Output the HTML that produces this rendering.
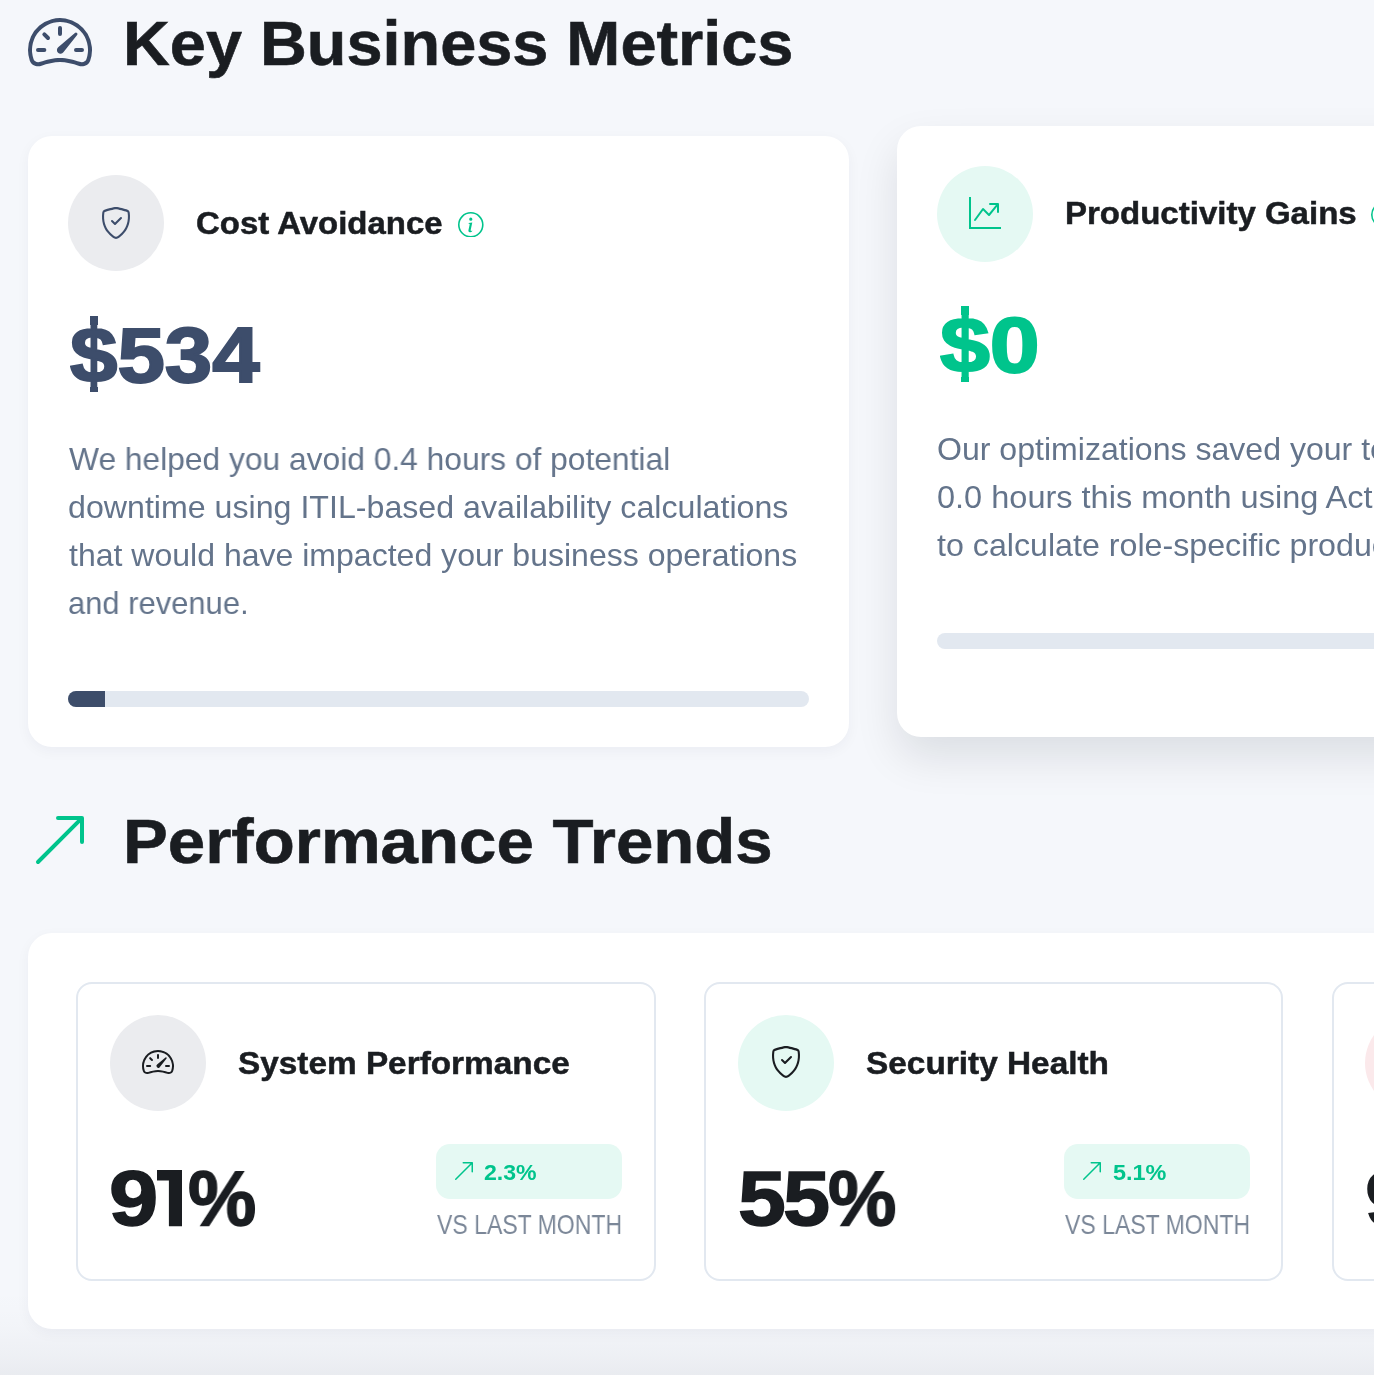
<!DOCTYPE html>
<html lang="en">
<head>
<meta charset="utf-8">
<title>Key Business Metrics</title>
<style>
*{box-sizing:border-box;margin:0;padding:0}
html,body{width:1374px;height:1375px;overflow:hidden}
body{background:#f5f7fb;font-family:"Liberation Sans",sans-serif;position:relative;color:#1a1d21}
.abs{position:absolute}
.t{position:absolute;white-space:nowrap;line-height:1;transform-origin:0 50%;will-change:transform}
svg{display:block;position:absolute}
.h1{font-weight:700;font-size:63px;color:#1a1d21;-webkit-text-stroke:.6px #1a1d21}
.card{position:absolute;background:#fff;border-radius:24px}
.c1{left:28px;top:136px;width:821px;height:611px;box-shadow:0 4px 14px rgba(20,30,60,.045)}
.c2{left:897px;top:126px;width:600px;height:611px;box-shadow:0 20px 44px rgba(10,15,30,.105)}
.circ{position:absolute;width:96px;height:96px;border-radius:50%}
.ct{font-weight:700;font-size:31.5px;color:#1a1d21;-webkit-text-stroke:.5px #1a1d21}
.val{font-weight:700;font-size:77px;-webkit-text-stroke:2px currentColor}
.p{font-size:32px;color:#64748b}
.track{position:absolute;height:16px;border-radius:8px;background:#e2e8f0;overflow:hidden}
.fill{position:absolute;left:0;top:0;height:16px;background:#3d4d6a}
.trends{left:28px;top:933px;width:1500px;height:396px;box-shadow:0 4px 14px rgba(20,30,60,.045)}
.sub{position:absolute;top:48.5px;width:579px;height:299px;border:2px solid #e2e8f0;border-radius:16px;background:#fff}
.big{font-weight:700;font-size:78px;color:#1a1d21;-webkit-text-stroke:1.5px #1a1d21}
.badge{position:absolute;left:357.5px;top:160px;width:186px;height:55px;border-radius:14px;background:#e5f9f3}
.bt{font-weight:700;font-size:22px;color:#00c48c}
.vs{font-size:27.4px;color:#7b8798}
.fade{position:absolute;left:0;top:1285px;width:1374px;height:90px;background:linear-gradient(to bottom,rgba(30,35,50,0) 0%,rgba(30,35,50,.004) 25%,rgba(30,35,50,.012) 45%,rgba(30,35,50,.022) 62%,rgba(30,35,50,.036) 80%,rgba(30,35,50,.056) 100%)}
</style>
</head>
<body>
<div class="fade"></div>

<!-- Section 1 title -->
<svg style="left:28px;top:9.5px" width="64" height="64" viewBox="0 0 16 16" fill="#3d4d6b"><path d="M8 4a.5.5 0 0 1 .5.5V6a.5.5 0 0 1-1 0V4.5A.5.5 0 0 1 8 4M3.732 5.732a.5.5 0 0 1 .707 0l.915.914a.5.5 0 1 1-.708.708l-.914-.915a.5.5 0 0 1 0-.707M2 10a.5.5 0 0 1 .5-.5h1.586a.5.5 0 0 1 0 1H2.5A.5.5 0 0 1 2 10m9.5 0a.5.5 0 0 1 .5-.5h1.5a.5.5 0 0 1 0 1H12a.5.5 0 0 1-.5-.5m.754-4.246a.39.39 0 0 0-.527-.02L7.547 9.31a.91.91 0 1 0 1.302 1.258l3.434-4.297a.39.39 0 0 0-.029-.518z"/><path fill-rule="evenodd" d="M0 10a8 8 0 1 1 15.547 2.661c-.442 1.253-1.845 1.602-2.932 1.25C11.309 13.488 9.475 13 8 13c-1.474 0-3.31.488-4.615.911-1.087.352-2.49.003-2.932-1.25A8 8 0 0 1 0 10m8-7a7 7 0 0 0-6.603 9.329c.203.575.923.876 1.68.63C4.397 12.533 6.358 12 8 12s3.604.532 4.923.96c.757.245 1.477-.056 1.680-.631A7 7 0 0 0 8 3"/></svg>
<div class="t h1" id="t1" style="left:122.9px;top:11.6px;transform:scaleX(1.0294)">Key Business Metrics</div>

<!-- Card 1 -->
<div class="card c1">
  <div class="circ" style="left:40px;top:39px;background:#ebecef"></div>
  <svg style="left:72px;top:71px" width="32" height="32" viewBox="0 0 16 16" fill="#3d4d6b"><path d="M5.338 1.59a61 61 0 0 0-2.837.856.48.48 0 0 0-.328.39c-.554 4.157.726 7.19 2.253 9.188a10.7 10.7 0 0 0 2.287 2.233c.346.244.652.42.893.533q.18.085.293.118a1 1 0 0 0 .101.025 1 1 0 0 0 .1-.025q.114-.034.294-.118c.24-.113.547-.29.893-.533a10.7 10.7 0 0 0 2.287-2.233c1.527-1.997 2.807-5.031 2.253-9.188a.48.48 0 0 0-.328-.39c-.651-.213-1.75-.56-2.837-.855C9.552 1.29 8.531 1.067 8 1.067c-.53 0-1.552.223-2.662.524zM5.072.56C6.157.265 7.31 0 8 0s1.843.265 2.928.56c1.11.3 2.229.655 2.887.87a1.54 1.54 0 0 1 1.044 1.262c.596 4.477-.787 7.795-2.465 9.99a11.8 11.8 0 0 1-2.517 2.453 7 7 0 0 1-1.048.625c-.28.132-.581.24-.829.24s-.548-.108-.829-.24a7 7 0 0 1-1.048-.625 11.8 11.8 0 0 1-2.517-2.453C1.928 10.487.545 7.169 1.141 2.692A1.54 1.54 0 0 1 2.185 1.43 63 63 0 0 1 5.072.56"/><path d="M10.854 5.146a.5.5 0 0 1 0 .708l-3 3a.5.5 0 0 1-.708 0l-1.500-1.500a.5.5 0 1 1 .708-.708L7.500 7.793l2.646-2.647a.5.5 0 0 1 .708 0"/></svg>
  <div class="t ct" id="t2" style="left:167.75px;top:72.4px;transform:scaleX(1.0462)">Cost Avoidance</div>
  <svg style="left:430px;top:75.7px" width="25.6" height="25.6" viewBox="0 0 16 16" fill="#00c48c"><path d="M8 15A7 7 0 1 1 8 1a7 7 0 0 1 0 14m0 1A8 8 0 1 0 8 0a8 8 0 0 0 0 16"/><path d="m8.930 6.588-2.290.287-.082.380.450.083c.294.070.352.176.288.469l-.738 3.468c-.194.897.105 1.319.808 1.319.545 0 1.178-.252 1.465-.598l.088-.416c-.200.176-.492.246-.686.246-.275 0-.375-.193-.304-.533zM9 4.500a1 1 0 1 1-2 0 1 1 0 0 1 2 0"/></svg>
  <div class="abs" style="left:62px;top:180px;width:8px;height:9px;background:#3d4d6b"></div><div class="abs" style="left:62px;top:251px;width:8px;height:5px;background:#3d4d6b"></div>
  <div class="t val" id="t3" style="left:41.8px;top:180.7px;transform:scaleX(1.1064);color:#3d4d6b">$534</div>
  <div class="t p" id="p1" style="left:40.7px;top:307.1px;transform:scaleX(0.9920)">We helped you avoid 0.4 hours of potential</div>
  <div class="t p" id="p2" style="left:40.2px;top:355.1px;transform:scaleX(1.0050)">downtime using ITIL-based availability calculations</div>
  <div class="t p" id="p3" style="left:40.7px;top:403.1px;transform:scaleX(1.0009)">that would have impacted your business operations</div>
  <div class="t p" id="p4" style="left:40.3px;top:451.1px;transform:scaleX(0.9665)">and revenue.</div>
  <div class="track" style="left:40px;top:555.3px;width:741px"><div class="fill" style="width:37px"></div></div>
</div>

<!-- Card 2 (hovered) -->
<div class="card c2">
  <div class="circ" style="left:40px;top:39.5px;background:#e5f9f3"></div>
  <svg style="left:72px;top:71px" width="32" height="32" viewBox="0 0 16 16" fill="#00c48c"><path fill-rule="evenodd" d="M0 0h1v15h15v1H0zm10 3.500a.5.5 0 0 1 .5-.5h4a.5.5 0 0 1 .5.5v4a.5.5 0 0 1-1 0V4.900l-3.613 4.417a.5.5 0 0 1-.740.037L7.060 6.767l-3.656 5.027a.5.5 0 0 1-.808-.588l4-5.500a.5.5 0 0 1 .758-.060l2.609 2.610L13.445 4H10.500a.5.5 0 0 1-.5-.5"/></svg>
  <div class="t ct" id="t4" style="left:168px;top:72.4px;transform:scaleX(1.048)">Productivity Gains</div>
  <svg style="left:474px;top:75.7px" width="25.6" height="25.6" viewBox="0 0 16 16" fill="#00c48c"><path d="M8 15A7 7 0 1 1 8 1a7 7 0 0 1 0 14m0 1A8 8 0 1 0 8 0a8 8 0 0 0 0 16"/></svg>
  <div class="abs" style="left:64px;top:180px;width:8px;height:9px;background:#00c48c"></div><div class="abs" style="left:64px;top:251px;width:8px;height:5px;background:#00c48c"></div>
  <div class="t val" id="t5" style="left:42.6px;top:180.7px;transform:scaleX(1.1643);color:#00c48c">$0</div>
  <div class="t p" id="q1" style="left:40.3px;top:307.1px;transform:scaleX(1.0021)">Our optimizations saved your team approximately</div>
  <div class="t p" id="q2" style="left:40.3px;top:355.1px;transform:scaleX(1.0159)">0.0 hours this month using Activity-Based Costing</div>
  <div class="t p" id="q3" style="left:40.3px;top:403.1px;transform:scaleX(1.0060)">to calculate role-specific productivity value.</div>
  <div class="track" style="left:40px;top:507.3px;width:741px"></div>
</div>

<!-- Section 2 title -->
<svg style="left:28px;top:807.6px" width="64" height="64" viewBox="0 0 16 16" fill="#00c48c"><path fill-rule="evenodd" d="M14 2.500a.5.5 0 0 0-.5-.5h-6a.5.5 0 0 0 0 1h4.793L2.146 13.146a.5.5 0 0 0 .708.708L13 3.707V8.500a.5.5 0 0 0 1 0z"/></svg>
<div class="t h1" id="t6" style="left:122.9px;top:809.8px;transform:scaleX(1.0664)">Performance Trends</div>

<!-- Trends -->
<div class="card trends">
  <div class="sub" style="left:48px;width:580px">
    <div class="circ" style="left:32px;top:31.5px;background:#ebecef"></div>
    <svg style="left:63.85px;top:62.9px" width="32" height="32" viewBox="0 0 16 16" fill="#1a1d21"><path d="M8 4a.5.5 0 0 1 .5.5V6a.5.5 0 0 1-1 0V4.500A.5.5 0 0 1 8 4M3.732 5.732a.5.5 0 0 1 .707 0l.915.914a.5.5 0 1 1-.708.708l-.914-.915a.5.5 0 0 1 0-.707M2 10a.5.5 0 0 1 .5-.5h1.586a.5.5 0 0 1 0 1H2.500A.5.5 0 0 1 2 10m9.500 0a.5.5 0 0 1 .5-.5h1.500a.5.5 0 0 1 0 1H12a.5.5 0 0 1-.5-.5m.754-4.246a.39.39 0 0 0-.527-.020L7.547 9.310a.91.91 0 1 0 1.302 1.258l3.434-4.297a.39.39 0 0 0-.029-.518z"/><path fill-rule="evenodd" d="M0 10a8 8 0 1 1 15.547 2.661c-.442 1.253-1.845 1.602-2.932 1.250C11.309 13.488 9.475 13 8 13c-1.474 0-3.310.488-4.615.911-1.087.352-2.490.003-2.932-1.250A8 8 0 0 1 0 10m8-7a7 7 0 0 0-6.603 9.329c.203.575.923.876 1.680.630C4.397 12.533 6.358 12 8 12s3.604.532 4.923.960c.757.245 1.477-.056 1.680-.631A7 7 0 0 0 8 3"/></svg>
    <div class="t ct" id="s1" style="left:159.9px;top:64px;transform:scaleX(1.0585)">System Performance</div>
    <div class="t big" id="b1a" style="left:30.5px;top:175px;transform:scaleX(1.136)">9</div><svg style="left:79.2px;top:186.9px" width="25.1" height="56.3" viewBox="0 0 25.1 56.3" fill="#1a1d21"><path d="M0 0H25.1V56.3H11.9V10.6H0Z"/></svg><div class="t big" id="b1c" style="left:109.8px;top:175px;transform:scaleX(0.985)">%</div>
    <div class="badge"></div>
    <svg style="left:373.5px;top:175.5px" width="24" height="24" viewBox="0 0 16 16" fill="#00c48c"><path fill-rule="evenodd" d="M14 2.500a.5.5 0 0 0-.5-.5h-6a.5.5 0 0 0 0 1h4.793L2.146 13.146a.5.5 0 0 0 .708.708L13 3.707V8.500a.5.5 0 0 0 1 0z"/></svg>
    <div class="t bt" id="g1" style="left:405.9px;top:178.5px;transform:scaleX(1.05)">2.3%</div>
    <div class="t vs" id="v1" style="left:358.8px;top:227px;transform:scaleX(0.8404)">VS LAST MONTH</div>
  </div>
  <div class="sub" style="left:676.2px">
    <div class="circ" style="left:31.7px;top:31.5px;background:#e5f9f3"></div>
    <svg style="left:63.6px;top:62.9px" width="32" height="32" viewBox="0 0 16 16" fill="#1a1d21"><path d="M5.338 1.590a61 61 0 0 0-2.837.856.48.48 0 0 0-.328.390c-.554 4.157.726 7.190 2.253 9.188a10.7 10.7 0 0 0 2.287 2.233c.346.244.652.420.893.533q.18.085.293.118a1 1 0 0 0 .101.025 1 1 0 0 0 .100-.025q.114-.034.294-.118c.240-.113.547-.290.893-.533a10.7 10.7 0 0 0 2.287-2.233c1.527-1.997 2.807-5.031 2.253-9.188a.48.48 0 0 0-.328-.390c-.651-.213-1.750-.560-2.837-.855C9.552 1.290 8.531 1.067 8 1.067c-.530 0-1.552.223-2.662.524zM5.072.560C6.157.265 7.310 0 8 0s1.843.265 2.928.560c1.110.300 2.229.655 2.887.870a1.54 1.54 0 0 1 1.044 1.262c.596 4.477-.787 7.795-2.465 9.990a11.8 11.8 0 0 1-2.517 2.453 7 7 0 0 1-1.048.625c-.280.132-.581.240-.829.240s-.548-.108-.829-.240a7 7 0 0 1-1.048-.625 11.8 11.8 0 0 1-2.517-2.453C1.928 10.487.545 7.169 1.141 2.692A1.54 1.54 0 0 1 2.185 1.430 63 63 0 0 1 5.072.560"/><path d="M10.854 5.146a.5.5 0 0 1 0 .708l-3 3a.5.5 0 0 1-.708 0l-1.500-1.500a.5.5 0 1 1 .708-.708L7.500 7.793l2.646-2.647a.5.5 0 0 1 .708 0"/></svg>
    <div class="t ct" id="s2" style="left:159.65px;top:64px;transform:scaleX(1.0595)">Security Health</div>
    <div class="t big" id="b2a" style="left:31.8px;top:175px;transform:scaleX(1.1025)">5</div><div class="t big" id="b2b" style="left:76.8px;top:175px;transform:scaleX(1.085)">5</div><div class="t big" id="b2c" style="left:122px;top:175px;transform:scaleX(0.9866)">%</div>
    <div class="badge"></div>
    <svg style="left:373.5px;top:175.5px" width="24" height="24" viewBox="0 0 16 16" fill="#00c48c"><path fill-rule="evenodd" d="M14 2.500a.5.5 0 0 0-.5-.5h-6a.5.5 0 0 0 0 1h4.793L2.146 13.146a.5.5 0 0 0 .708.708L13 3.707V8.500a.5.5 0 0 0 1 0z"/></svg>
    <div class="t bt" id="g2" style="left:406.6px;top:178.5px;transform:scaleX(1.0653)">5.1%</div>
    <div class="t vs" id="v2" style="left:358.8px;top:227px;transform:scaleX(0.8404)">VS LAST MONTH</div>
  </div>
  <div class="sub" style="left:1303.9px">
    <div class="circ" style="left:31.5px;top:31.5px;background:#fbe9eb"></div>
    <div class="t big" id="b3" style="left:31.5px;top:175px;transform:scaleX(1.136)">94%</div>
  </div>
</div>

</body>
</html>
